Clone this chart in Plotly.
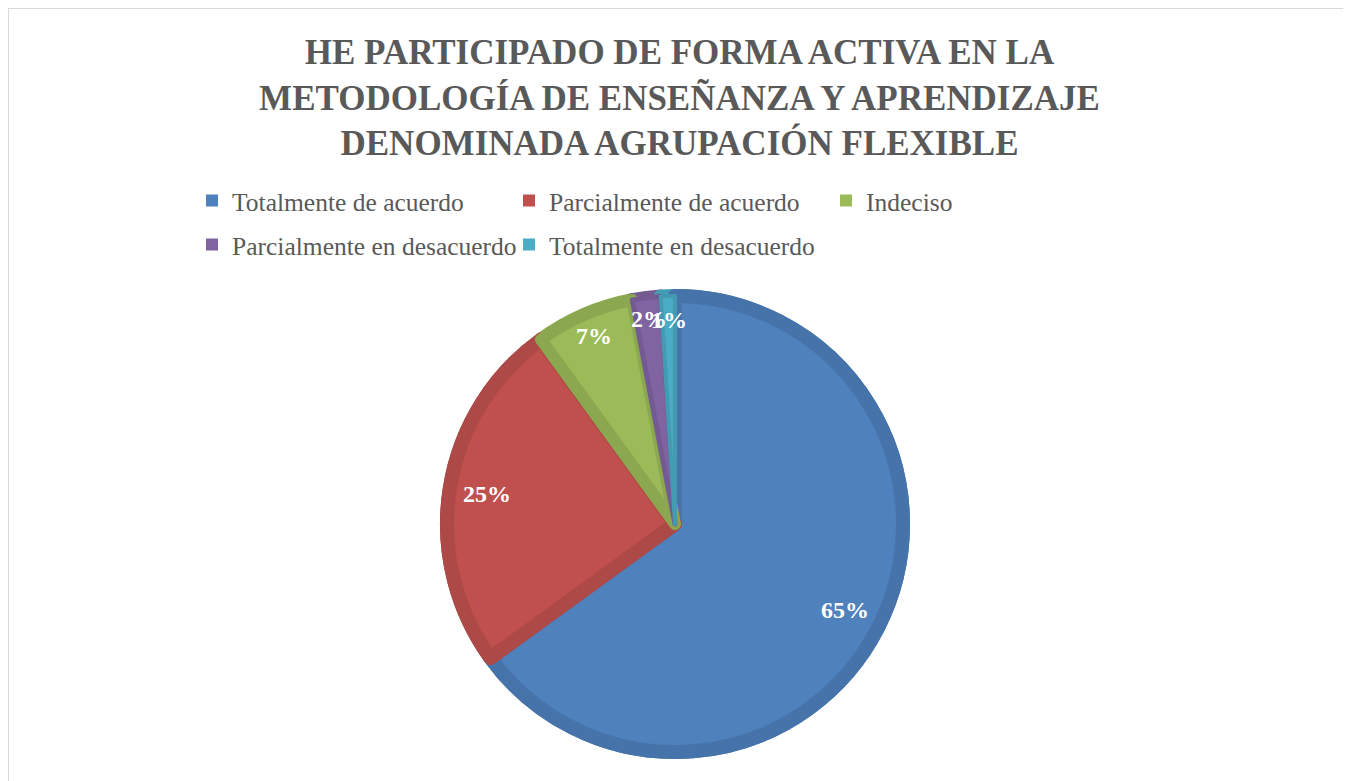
import math
import plotly.graph_objects as go

categories = ["Totalmente de acuerdo", "Parcialmente de acuerdo", "Indeciso",
              "Parcialmente en desacuerdo", "Totalmente en desacuerdo"]
values = [65, 25, 7, 2, 1]
colors = ["#4F81BD", "#C0504D", "#9BBB59", "#8064A2", "#4BACC6"]
edge_colors = ["#4674AA", "#AD4946", "#8BA850", "#735A92", "#439BB2"]
edge_widths = [14, 14, 12, 5, 4]
label_radius = [0.81, 0.81, 0.87, 0.88, 0.87]  # fraction of outer radius
title_text = ("HE PARTICIPADO DE FORMA ACTIVA EN LA<br>"
              "METODOLOGÍA DE ENSEÑANZA Y APRENDIZAJE<br>"
              "DENOMINADA AGRUPACIÓN FLEXIBLE")

# page has an 8px body margin, so figure is sized to fit the window
W, H = 1343, 773
L, T, B = 100, 288, 29
PW = 1134
R = W - L - PW
PH = H - T - B
LINE_W = 14
SERIF = "Liberation Serif"

fig = go.Figure()
# underlying ring in the darker edge colours
fig.add_trace(go.Pie(
    labels=categories, values=values, sort=False, direction="clockwise",
    rotation=0, showlegend=False,
    marker=dict(colors=edge_colors, line=dict(color=edge_colors, width=LINE_W)),
    textinfo="none", hoverinfo="skip",
))
fig.add_trace(go.Pie(
    labels=categories, values=values, sort=False, direction="clockwise",
    rotation=0, showlegend=False,
    marker=dict(colors=colors, line=dict(color=edge_colors, width=edge_widths)),
    textinfo="none", hoverinfo="label+percent",
))

# legend entries (two rows, as in the reference)
for i, (cat, col) in enumerate(zip(categories, colors)):
    fig.add_trace(go.Scatter(
        x=[None], y=[None], mode="markers", name=cat,
        marker=dict(symbol="square", size=12, color=col),
        legend="legend" if i < 3 else "legend2", hoverinfo="skip",
    ))

# percentage labels positioned from the values (mid-angle of each slice)
total = sum(values)
cx, cy = L + PW / 2, T + PH / 2
r_out = PH / 2 + LINE_W / 2
cum = 0
annotations = []
for v, rf in zip(values, label_radius):
    mid = (cum + v / 2) / total * 2 * math.pi
    cum += v
    x = cx + rf * r_out * math.sin(mid)
    y = cy - rf * r_out * math.cos(mid)
    annotations.append(dict(
        x=(x - L) / PW, y=1 - (y - T) / PH, xref="paper", yref="paper",
        text="<b>%d%%</b>" % round(v / total * 100), showarrow=False,
        font=dict(family=SERIF, size=24, color="white"),
        xanchor="center", yanchor="middle",
    ))

legend_common = dict(
    orientation="h", xref="container", yref="container",
    x=184 / W, xanchor="left", yanchor="middle",
    entrywidth=272, entrywidthmode="pixels", itemwidth=30,
    font=dict(family=SERIF, size=25.5, color="#595959"),
    bgcolor="rgba(0,0,0,0)",
)

fig.update_layout(
    width=W, height=H,
    margin=dict(l=L, r=R, t=T, b=B, autoexpand=False),
    paper_bgcolor="white", plot_bgcolor="white",
    font=dict(family=SERIF),
    title=dict(text="<b>" + title_text + "</b>", x=0.5, xanchor="center",
               y=1 - 56 / H, yanchor="top", yref="container",
               font=dict(family=SERIF, size=35, color="#595959")),
    legend=dict(legend_common, y=1 - 193 / H),
    legend2=dict(legend_common, y=1 - 237 / H),
    xaxis=dict(visible=False), yaxis=dict(visible=False),
    annotations=annotations,
    shapes=[dict(type="rect", xref="paper", yref="paper",
                 x0=(0 - L) / PW, x1=(1336 - L) / PW,
                 y0=1 - (H + 20 - T) / PH, y1=1 - (0 - T) / PH,
                 line=dict(color="#D9D9D9", width=2), layer="below")],
)

fig.write_html("out.html")
